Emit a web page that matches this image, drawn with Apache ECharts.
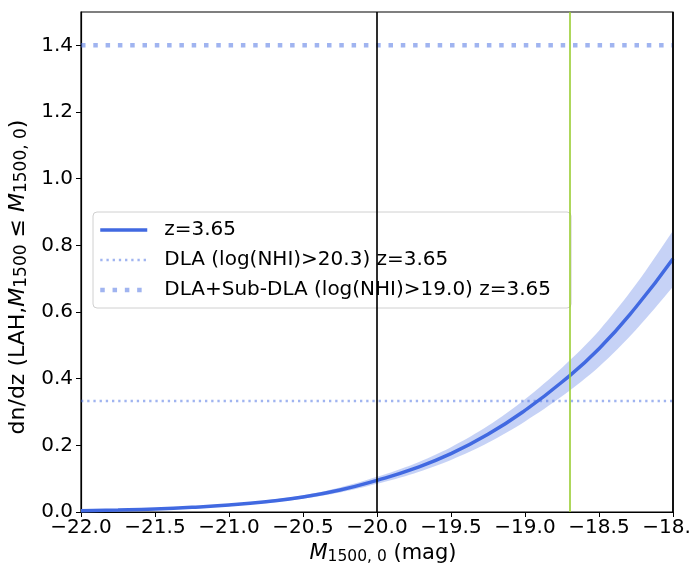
<!DOCTYPE html>
<html><head><meta charset="utf-8">
<script src="https://cdn.jsdelivr.net/npm/echarts@6/dist/echarts.min.js"></script>
<style>html,body{margin:0;padding:0;background:#fff}#c{width:689px;height:566px}</style>
</head><body><div id="c"></div>
<script>
const mags   = [-22, -21.75, -21.5, -21.25, -21, -20.75, -20.5, -20.25, -20, -19.75, -19.5, -19.25, -19, -18.75, -18.5, -18.25, -18];
const dndz   = [0.004, 0.006, 0.009, 0.014, 0.021, 0.031, 0.045, 0.066, 0.095, 0.13, 0.175, 0.233, 0.305, 0.39, 0.49, 0.615, 0.76];
const dndzLo = [0.0036, 0.0053, 0.008, 0.0125, 0.0187, 0.0276, 0.040, 0.0587, 0.0846, 0.1157, 0.1558, 0.2074, 0.2715, 0.347, 0.436, 0.547, 0.676];
const dndzHi = [0.0044, 0.0067, 0.010, 0.0155, 0.0233, 0.0344, 0.050, 0.0733, 0.1055, 0.1443, 0.1943, 0.2586, 0.3386, 0.433, 0.544, 0.683, 0.844];
const dlaLevel = 0.333;
const subDlaLevel = 1.40;
const xRange = [-22, -18];
const vBlack = [-20, -18];
const vGreen = [-18.7];
const xTicks = [-22, -21.5, -21, -20.5, -20, -19.5, -19, -18.5, -18];
const yTicks = [0, 0.2, 0.4, 0.6, 0.8, 1.0, 1.2, 1.4];
const names = ['z=3.65', 'DLA (log(NHI)>20.3) z=3.65', 'DLA+Sub-DLA (log(NHI)>19.0) z=3.65'];

const FONT = 'DejaVu Sans';
const FS = 20;
const pair = (xs, ys) => xs.map((x, i) => [x, ys[i]]);
const fmt = v => (v < 0 ? '\u2212' : '') + Math.abs(v).toFixed(1);
const richX = {
  i: {fontFamily: FONT, fontSize: 21, fontStyle: 'italic', color: '#000'},
  s: {fontFamily: FONT, fontSize: 15.5, color: '#000', verticalAlign: 'bottom', padding: [8, 0, 0, 0]},
  n: {fontFamily: FONT, fontSize: 21, color: '#000'}
};
const richY = {
  i: {fontFamily: FONT, fontSize: 22, fontStyle: 'italic', color: '#000'},
  s: {fontFamily: FONT, fontSize: 17, color: '#000', verticalAlign: 'bottom', padding: [8, 0, 0, 0]},
  n: {fontFamily: FONT, fontSize: 22, color: '#000'}
};
const mainStyle = {color: '#4169e1', width: 3.5, type: 'solid'};
const dlaStyle = {color: 'rgba(65,105,225,0.5)', width: 2.3, type: [2.3, 3.9]};
const subStyle = {color: 'rgba(65,105,225,0.5)', width: 4.5, type: [4.5, 7.8]};

const chart = echarts.init(document.getElementById('c'), null, {renderer: 'canvas'});
chart.setOption({
  animation: false,
  backgroundColor: '#fff',
  grid: {left: 81, right: 16, top: 12, bottom: 54, show: true, borderColor: '#000', borderWidth: 1.2,
         containLabel: false, outerBoundsMode: 'none'},
  xAxis: {
    type: 'value', min: xRange[0], max: xRange[1],
    axisLine: {show: true, lineStyle: {color: '#000', width: 1.2}},
    axisTick: {show: true, length: 5, lineStyle: {color: '#000'}, customValues: xTicks},
    axisLabel: {color: '#000', fontFamily: FONT, fontSize: FS, margin: 6, customValues: xTicks, formatter: v => fmt(v)},
    splitLine: {show: false},
    name: '{i|M}{s|1500, 0}{n| (mag)}', nameLocation: 'middle', nameGap: 29,
    nameTextStyle: {rich: richX, padding: [0, 0, 0, 12]}
  },
  yAxis: {
    type: 'value', min: 0, max: 1.5,
    axisLine: {show: true, lineStyle: {color: '#000', width: 1.2}},
    axisTick: {show: true, length: 5, lineStyle: {color: '#000'}, customValues: yTicks},
    axisLabel: {color: '#000', fontFamily: FONT, fontSize: FS, margin: 8, customValues: yTicks, formatter: v => v.toFixed(1)},
    splitLine: {show: false},
    name: '{n|dn/dz (LAH,}{i|M}{s|1500}{n| \u2264 }{i|M}{s|1500, 0}{n|)}', nameLocation: 'middle', nameGap: 48,
    nameTextStyle: {rich: richY, padding: [0, 30, 0, 0]}
  },
  legend: {
    data: [
      {name: names[0], lineStyle: mainStyle},
      {name: names[1], lineStyle: dlaStyle},
      {name: names[2], lineStyle: subStyle}
    ],
    orient: 'vertical', left: 93, top: 212,
    padding: [8, 20, 8, 5], itemGap: 10, itemWidth: 47, itemHeight: 14,
    itemStyle: {opacity: 0},
    backgroundColor: 'rgba(255,255,255,0.8)', borderColor: '#d0d0d0', borderWidth: 1, borderRadius: 4,
    textStyle: {fontFamily: FONT, fontSize: FS, color: '#000', padding: [0, 0, 0, 12]}
  },
  series: [
    {name: 'band', type: 'custom', z: 1, silent: true, clip: true,
     data: mags.map((x, i) => [x, dndzLo[i], dndzHi[i]]),
     renderItem: function (params, api) {
       if (params.dataIndex !== 0) return null;
       const n = mags.length;
       const up = mags.map((x, i) => api.coord([x, dndzHi[i]]));
       const lo = mags.map((x, i) => api.coord([x, dndzLo[i]])).reverse();
       // repeat the end points so the outline keeps sharp corners at both ends
       const pts = [up[0]].concat(up, [up[n - 1]], [lo[0]], lo, [lo[n - 1]]);
       return {type: 'polygon', shape: {points: pts, smooth: 0.3},
               style: {fill: 'rgba(65,105,225,0.3)', stroke: 'none'}};
     }},
    {name: 'vlines', type: 'line', data: [], symbol: 'none', z: 2,
     markLine: {silent: true, symbol: 'none', label: {show: false},
       data: vBlack.map(x => ({xAxis: x, lineStyle: {color: 'rgba(0,0,0,0.82)', width: 2, type: 'solid'}}))
         .concat(vGreen.map(x => ({xAxis: x, lineStyle: {color: 'rgba(154,205,50,0.8)', width: 2, type: 'solid'}})))}},
    {name: names[0], type: 'line', data: pair(mags, dndz), symbol: 'none', smooth: true,
     lineStyle: mainStyle, itemStyle: {color: '#4169e1'}, z: 3},
    {name: names[1], type: 'line', data: pair(xRange, [dlaLevel, dlaLevel]), symbol: 'none',
     lineStyle: dlaStyle, itemStyle: {color: 'rgba(65,105,225,0.5)'}, z: 3},
    {name: names[2], type: 'line', data: pair(xRange, [subDlaLevel, subDlaLevel]), symbol: 'none',
     lineStyle: subStyle, itemStyle: {color: 'rgba(65,105,225,0.5)'}, z: 3}
  ]
});
</script></body></html>
